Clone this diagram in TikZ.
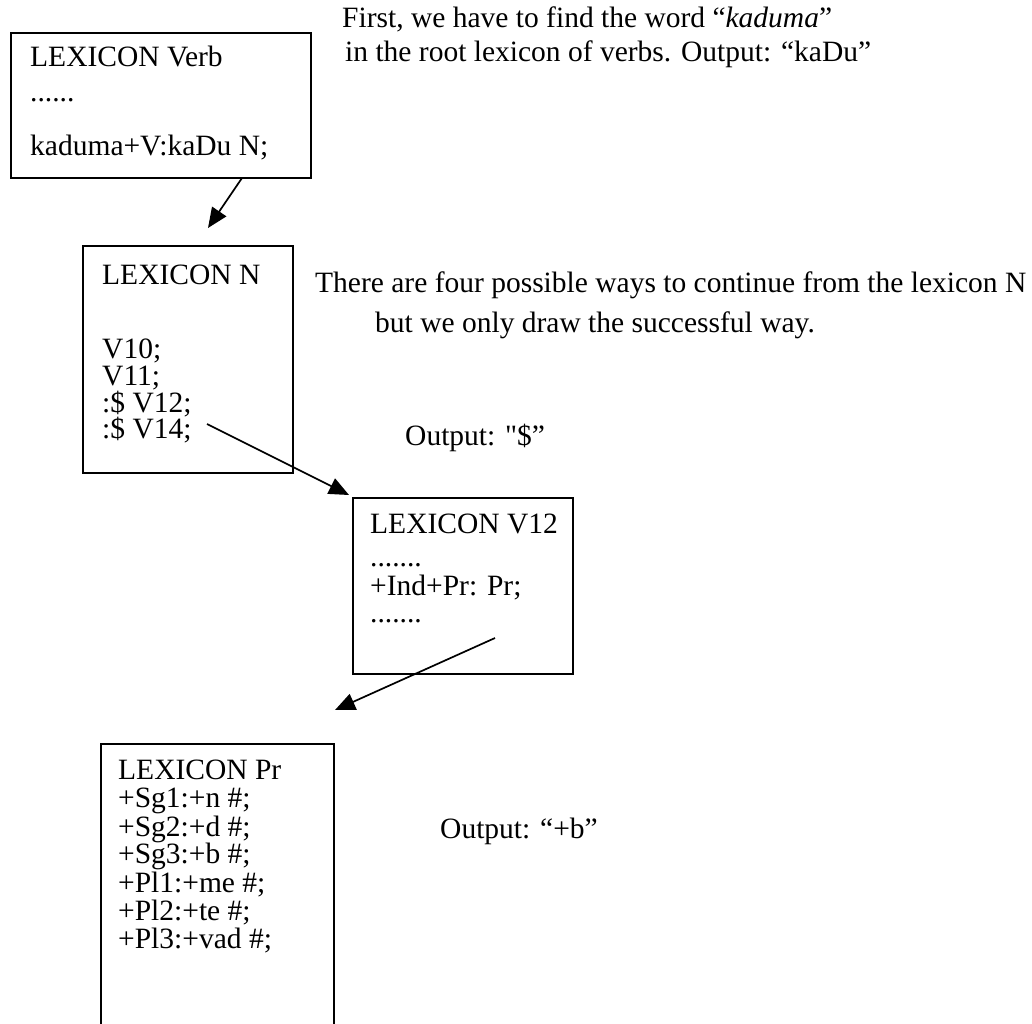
\documentclass[tikz,border=0pt]{standalone}
\usepackage{fontspec}
\setmainfont{Liberation Serif}
\newfontfamily\rawserif{Liberation Serif}
\usetikzlibrary{arrows.meta}
\begin{document}
\begin{tikzpicture}[x=1pt,y=-1pt,
  lexbox/.style={draw,line width=1.7pt,anchor=north west,inner sep=0pt},
  txt/.style={anchor=base west,inner sep=0pt,font=\fontsize{29.5}{31}\selectfont},
  conn/.style={line width=1.7pt,-{Triangle[length=20pt,width=17pt]}}]
\useasboundingbox (0,0) rectangle (1032,1023);
\clip (0,0) rectangle (1032,1023);
% boxes
\node[lexbox,minimum width=300pt,minimum height=145pt] (verb) at (10,32) {};
\node[lexbox,minimum width=210pt,minimum height=227pt] (lexn) at (82,245) {};
\node[lexbox,minimum width=220pt,minimum height=176pt] (lexv) at (352,497) {};
\node[lexbox,minimum width=233pt,minimum height=320pt] (lexpr) at (100,743) {};
% box 1 text
\node[txt] (v1) at (30,66) {LEXICON Verb};
\node[txt] (v2) at (30,101) {......};
\node[txt] (v3) at (30,155) {kaduma+V:kaDu N;};
% box 2 text
\node[txt] (n1) at (102,284) {LEXICON N};
\node[txt] (n2) at (102,358) {V10;};
\node[txt] (n3) at (102,385) {V11;};
\node[txt] (n4) at (102,412) {:\$ V12;};
\node[txt] (n5) at (102,438) {:\$ V14;};
% box 3 text
\node[txt] (w1) at (370,533) {LEXICON V12};
\node[txt] (w2) at (370,566) {.......};
\node[txt] (w3) at (370,595) {+Ind+Pr: Pr;};
\node[txt] (w4) at (370,622) {.......};
% box 4 text
\node[txt] (p0) at (118,779) {LEXICON Pr};
\node[txt] (p1) at (118,807) {+Sg1:+n \#;};
\node[txt] (p2) at (118,836) {+Sg2:+d \#;};
\node[txt] (p3) at (118,863) {+Sg3:+b \#;};
\node[txt] (p4) at (118,892) {+Pl1:+me \#;};
\node[txt] (p5) at (118,920) {+Pl2:+te \#;};
\node[txt] (p6) at (118,948) {+Pl3:+vad \#;};
% comments
\node[txt] (c1) at (342,27) {First, we have to find the word “\textit{kaduma}”};
\node[txt] (c2) at (345,61) {in the root lexicon of verbs. Output: “kaDu”};
\node[txt] (c3) at (315,292) {There are four possible ways to continue from the lexicon N};
\node[txt] (c4) at (375,332) {but we only draw the successful way.};
\node[txt] (c5) at (405,445) {Output: {\rawserif"}\$”};
\node[txt] (c6) at (440,838) {Output: “+b”};
% connectors
\coordinate (a1s) at (242,178);
\coordinate (a1e) at (208,228);
\coordinate (a2s) at (207,424);
\coordinate (a2e) at (349,495);
\coordinate (a3s) at (495,638);
\coordinate (a3e) at (335,710);
\draw[conn] (a1s) -- (a1e);
\draw[conn] (a2s) -- (a2e);
\draw[conn] (a3s) -- (a3e);
\end{tikzpicture}
\end{document}
